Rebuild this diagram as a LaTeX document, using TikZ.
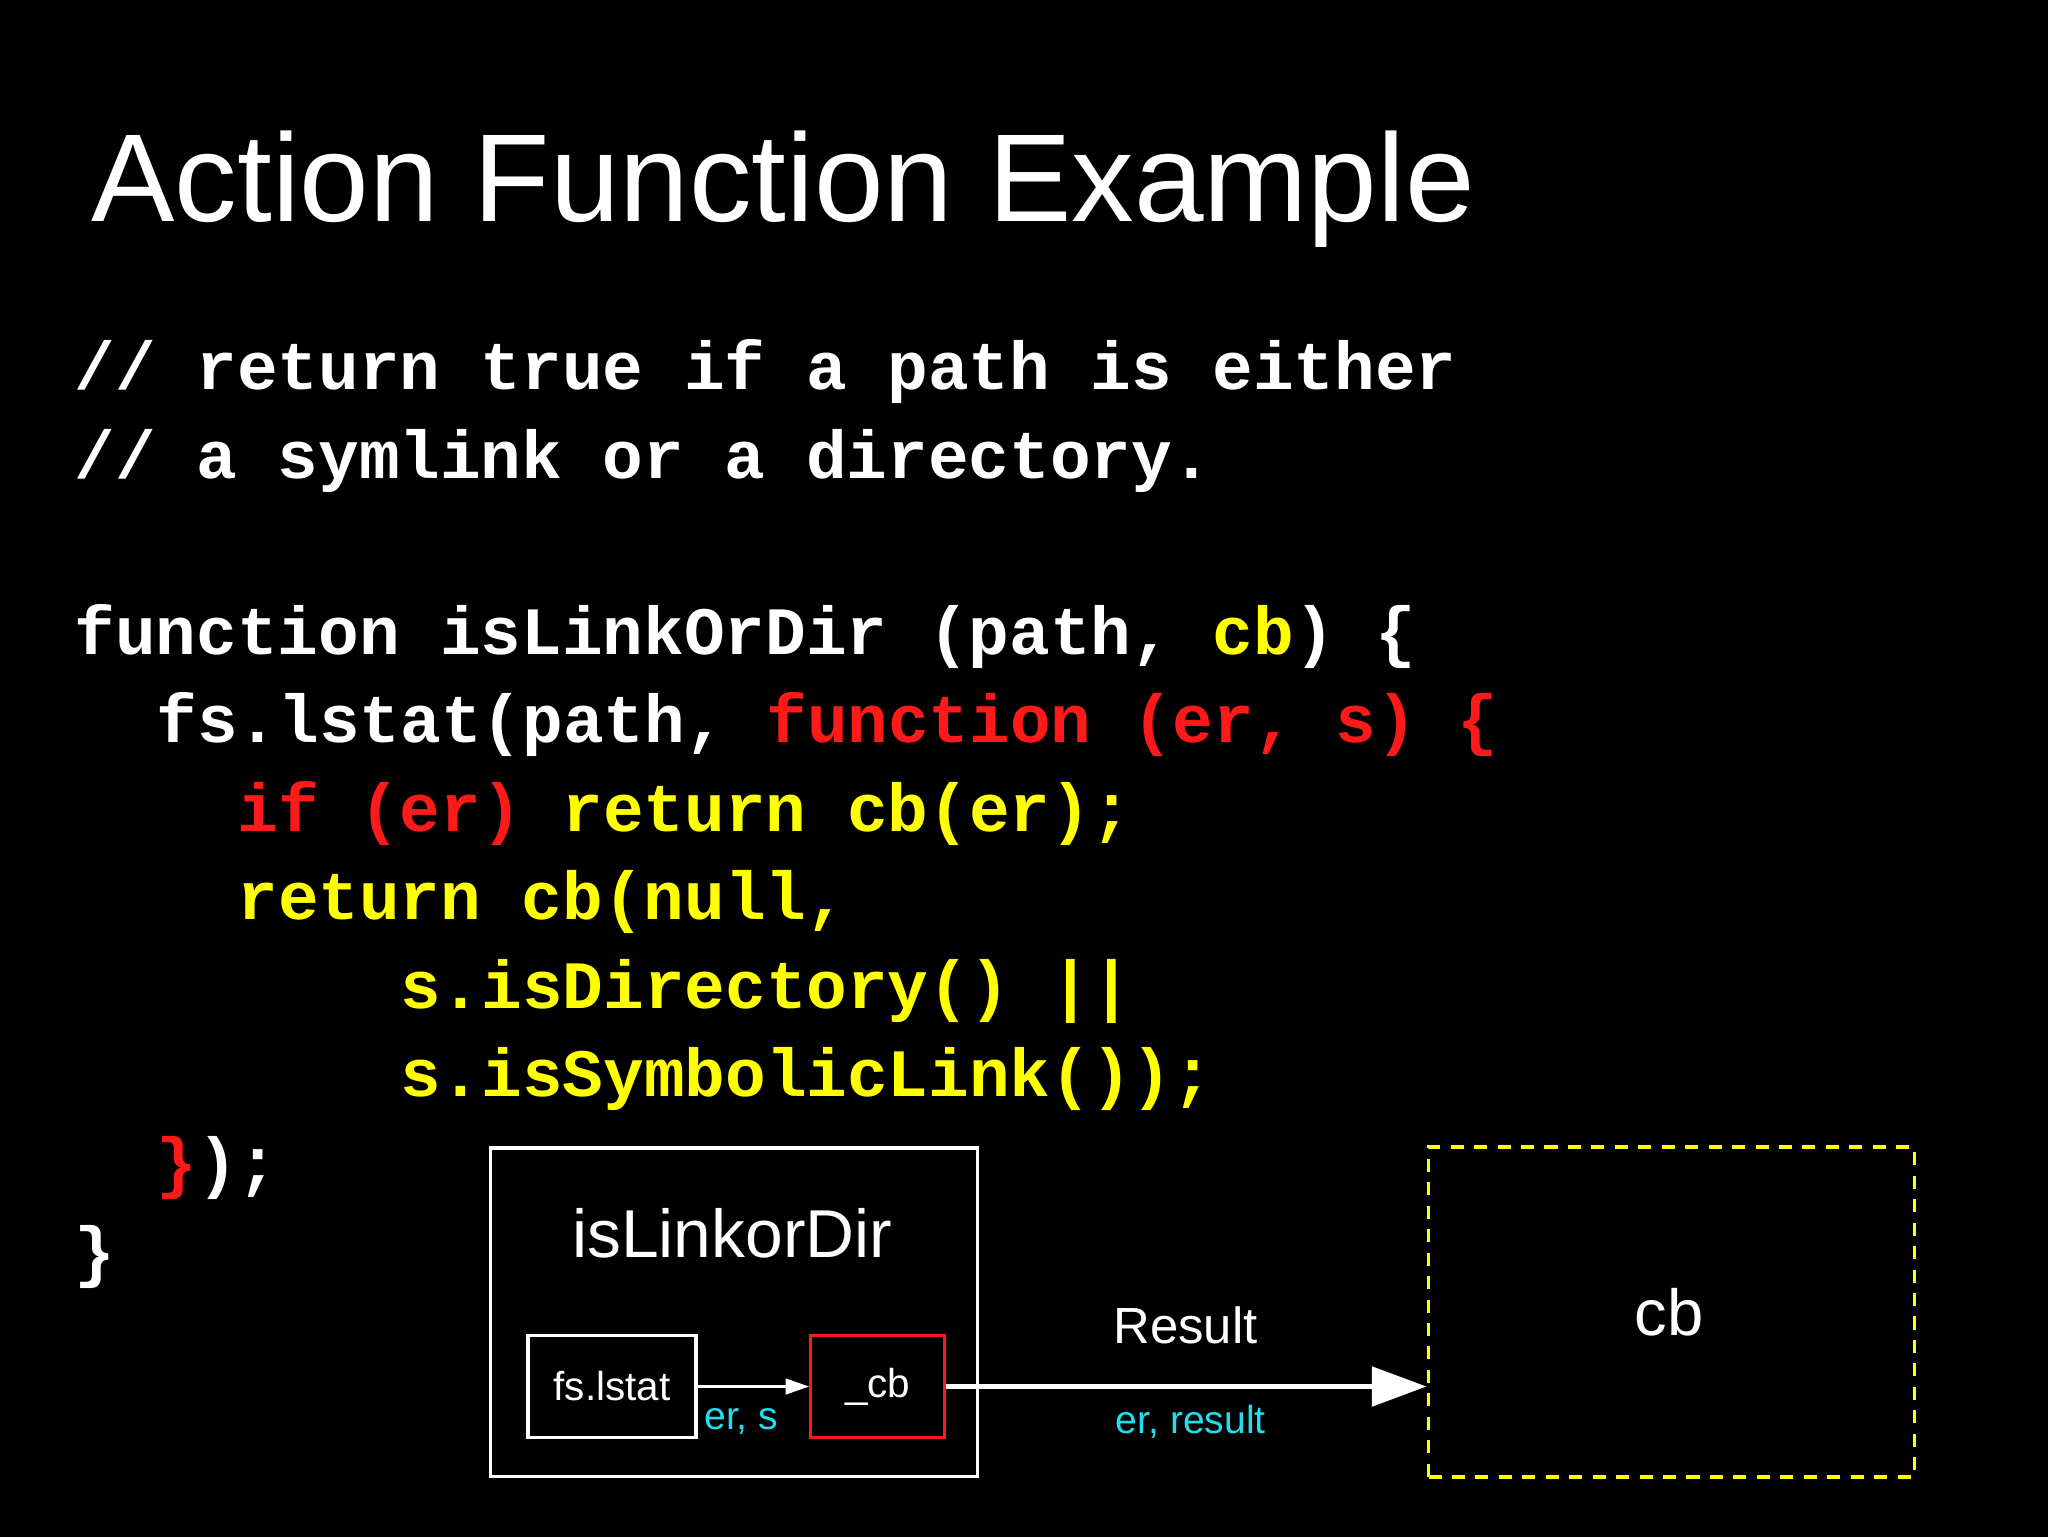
\documentclass[tikz,border=0pt]{standalone}
\usepackage{fontspec}
\setmainfont{Liberation Sans}
\newfontfamily\codefont{Liberation Mono}
\usetikzlibrary{arrows.meta}
\definecolor{cy}{HTML}{FFFF00}
\definecolor{cr}{HTML}{FF1A1A}
\definecolor{cc}{HTML}{22DDEE}
\tikzset{
 codeline/.style={anchor=base west,inner sep=0,text=white,font=\codefont\bfseries\fontsize{52}{60}\selectfont},
 lbl/.style={inner sep=0,text=white},
}
\begin{document}
\begin{tikzpicture}[x=1pt,y=-1pt]
\fill[black] (-2,-2) rectangle (1570,1178);
\useasboundingbox (0,0) rectangle (1568,1176);
\node[lbl,anchor=base west,font=\fontsize{96}{106}\selectfont] (title) at (68,168) {Action Function Example};
\node[codeline] (c1) at (55,297) {// return true if a path is either};
\node[codeline] (c2) at (55,365) {// a symlink or a directory.};
\node[codeline] (c3) at (55,500) {function isLinkOrDir (path, \textcolor{cy}{cb}) \{};
\node[codeline] (c4) at (118,568) {fs.lstat(path, \textcolor{cr}{function (er, s) \{}};
\node[codeline] (c5) at (180,636) {\textcolor{cr}{if (er)} \textcolor{cy}{return cb(er);}};
\node[codeline,text=cy] (c6) at (180,704) {return cb(null,};
\node[codeline,text=cy] (c7) at (305,772) {s.isDirectory() ||};
\node[codeline,text=cy] (c8) at (305,840) {s.isSymbolicLink());};
\node[codeline] (c9) at (118,908) {\textcolor{cr}{\}});};
\node[codeline] (c10) at (55,976) {\}};
% diagram
\node[draw=white,line width=2.5pt,minimum width=374,minimum height=252,anchor=north west,inner sep=0] (outer) at (373,878) {};
\node[lbl,font=\fontsize{52}{56}\selectfont] (otitle) at (560,945) {isLinkorDir};
\node[draw=white,line width=2.5pt,minimum width=129,minimum height=78,anchor=north west,inner sep=0,text=white,font=\fontsize{31}{33}\selectfont] (fs) at (402,1022) {fs.lstat};
\node[draw=cr,line width=2.5pt,minimum width=103,minimum height=78,anchor=north west,inner sep=0,text=white,font=\fontsize{31}{33}\selectfont] (cbi) at (619,1022) {\_cb};
\draw[white,line width=2pt,-{Triangle[length=18pt,width=12pt]}] (fs.east) -- (cbi.west);
\node[lbl,text=cc,font=\fontsize{30}{32}\selectfont] (ers) at (567,1089) {er, s};
\node[draw=cy,dashed,dash pattern=on 10pt off 8pt,line width=3pt,minimum width=373,minimum height=253,anchor=north west,inner sep=0] (cb) at (1093,877) {};
\node[lbl,font=\fontsize{50}{54}\selectfont] (cbt) at (1279,1005) {cb};
\draw[white,line width=4pt,-{Triangle[length=42pt,width=30pt]}] (cbi.east) -- (cbi.east -| cb.west);
\node[lbl,font=\fontsize{39}{42}\selectfont] (res) at (908,1015) {Result};
\node[lbl,text=cc,font=\fontsize{30}{32}\selectfont] (err) at (912,1089) {er, result};
\end{tikzpicture}
\end{document}
